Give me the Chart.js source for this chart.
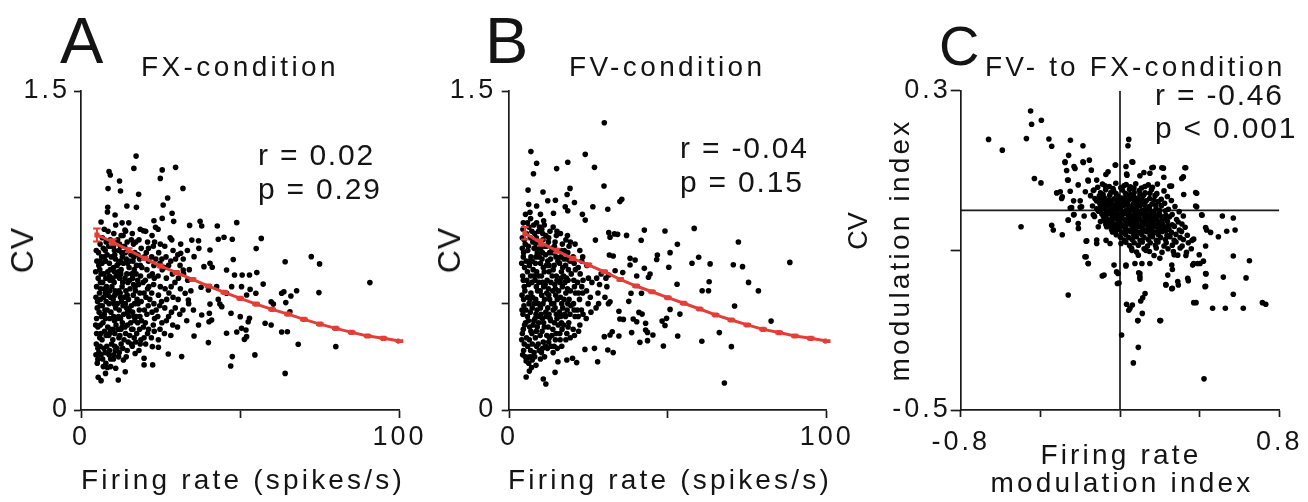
<!DOCTYPE html>
<html><head><meta charset="utf-8">
<script src="https://cdn.jsdelivr.net/npm/chart.js@4/dist/chart.umd.min.js"></script>
<style>
html,body{margin:0;padding:0;background:#fff;overflow:hidden;width:1308px;height:502px;}
canvas{position:absolute;top:0;}
.t{position:absolute;font-family:"Liberation Sans",Arial,sans-serif;color:#141414;white-space:nowrap;line-height:1;}
.big{font-size:65px;}
.cond{font-size:28px;letter-spacing:3.4px;}
.stat{font-size:30px;letter-spacing:1.8px;}
.ax{font-size:28px;letter-spacing:3.2px;}
.rot{transform:translate(-50%,-50%) rotate(-90deg);transform-origin:50% 50%;}
.ctr{transform:translateX(-50%);}
</style>
</head><body>
<canvas id="cA" width="436" height="502" style="left:0px"></canvas>
<canvas id="cB" width="436" height="502" style="left:436px"></canvas>
<canvas id="cC" width="436" height="502" style="left:872px"></canvas>

<div class="t big" style="left:60px;top:8px;">A</div>
<div class="t cond" style="left:141px;top:53px;">FX-condition</div>
<div class="t stat" style="left:258px;top:140px;">r = 0.02</div>
<div class="t stat" style="left:258px;top:174px;">p = 0.29</div>
<div class="t rot" style="left:22px;top:250px;font-size:32px;letter-spacing:1px;">CV</div>
<div class="t ax" style="left:81px;top:466px;">Firing rate (spikes/s)</div>

<div class="t big" style="left:485px;top:8px;">B</div>
<div class="t cond" style="left:569px;top:53px;">FV-condition</div>
<div class="t stat" style="left:680px;top:133px;">r = -0.04</div>
<div class="t stat" style="left:680px;top:167px;">p = 0.15</div>
<div class="t rot" style="left:449px;top:250px;font-size:32px;letter-spacing:1px;">CV</div>
<div class="t ax" style="left:508px;top:466px;">Firing rate (spikes/s)</div>

<div class="t" style="left:939px;top:18px;font-size:56px;">C</div>
<div class="t cond" style="left:985px;top:53px;letter-spacing:3.2px;">FV- to FX-condition</div>
<div class="t stat" style="left:1155px;top:80px;">r = -0.46</div>
<div class="t stat" style="left:1155px;top:113px;">p &lt; 0.001</div>
<div class="t rot" style="left:858px;top:231px;font-size:27px;">CV</div>
<div class="t rot ax" style="left:900px;top:250px;">modulation index</div>
<div class="t ax ctr" style="left:1121px;top:441px;">Firing rate</div>
<div class="t ax ctr" style="left:1122px;top:469px;">modulation index</div>

<script>
// ---------------- DATA ----------------
// Panel A (FX-condition): firing rate (spikes/s) vs CV
const scatterA = [
[17.3,1.194],[16.6,1.136],[29.7,1.141],[25.5,1.129],[24.9,1.089],[8.8,1.121],[9.2,1.105],[12.1,1.077],[32.0,1.042],[8.5,1.041],[12.4,1.030],[18.1,1.014],[27.2,0.997],[25.8,0.964],[14.4,0.959],[17.4,0.953],[8.4,0.953],[8.3,0.931],[28.6,0.925],[10.7,0.917],[25.5,0.901],[22.9,0.890],[29.1,0.887],[6.3,0.884],[37.4,0.887],[37.9,0.865],[34.1,0.868],[42.8,0.865],[48.9,0.881],[23.4,0.859],[19.6,0.843],[13.8,0.846],[56.6,0.807],[44.9,0.812],[47.5,0.803],[43.1,0.803],[28.0,0.810],[34.8,0.799],[36.9,0.796],[55.0,0.759],[37.0,0.760],[40.5,0.752],[31.3,0.737],[35.5,0.721],[72.3,0.721],[64.1,0.697],[74.9,0.687],[47.8,0.708],[40.5,0.690],[38.6,0.674],[41.2,0.671],[32.1,0.658],[45.7,0.658],[48.2,0.635],[50.6,0.635],[52.9,0.635],[55.2,0.646],[90.7,0.599],[57.2,0.592],[47.3,0.580],[50.4,0.580],[42.6,0.580],[37.7,0.577],[40.0,0.564],[53.1,0.567],[67.7,0.561],[63.7,0.556],[52.0,0.541],[54.9,0.549],[74.7,0.552],[65.9,0.536],[63.0,0.549],[45.7,0.549],[32.7,0.549],[33.7,0.517],[43.1,0.520],[40.5,0.498],[43.6,0.498],[59.7,0.509],[60.4,0.498],[64.3,0.505],[35.3,0.470],[37.9,0.447],[40.3,0.455],[44.2,0.486],[47.1,0.455],[65.6,0.462],[50.0,0.439],[52.9,0.431],[36.9,0.400],[40.2,0.415],[41.0,0.423],[52.5,0.415],[57.8,0.408],[59.7,0.400],[50.4,0.384],[51.8,0.376],[48.9,0.367],[45.7,0.361],[63.0,0.367],[64.8,0.368],[52.0,0.345],[51.3,0.332],[35.5,0.348],[40.0,0.317],[68.2,0.309],[80.0,0.298],[31.6,0.251],[47.5,0.251],[54.6,0.259],[47.0,0.207],[64.1,0.172],[27.4,0.263],[19.8,0.243],[19.8,0.212],[22.5,0.212],[24.3,0.295],[22.4,0.298],[17.0,0.266],[13.9,0.180],[11.7,0.141],[6.3,0.138],[5.4,0.154],[7.7,0.172],[10.9,0.196],[9.3,0.204],[7.0,0.204],[5.3,0.238],[5.9,0.262],[13.3,0.235],
[5.1,0.22],[5.6,0.27],[4.8,0.31],[5.9,0.34],[5.3,0.39],[4.9,0.43],[5.7,0.46],[5.2,0.51],[5.8,0.55],[4.9,0.58],[5.4,0.62],[5.9,0.66],[5.0,0.70],[5.5,0.74],[6.0,0.78],
[6.8,0.24],[7.2,0.29],[6.6,0.33],[7.4,0.37],[6.9,0.41],[7.3,0.45],[6.7,0.49],[7.1,0.53],[7.5,0.57],[6.8,0.60],[7.2,0.64],[6.6,0.69],[7.4,0.72],[7.0,0.76],[6.7,0.81],[7.3,0.85],
[8.3,0.20],[8.8,0.26],[8.1,0.30],[8.7,0.35],[8.4,0.39],[9.0,0.43],[8.2,0.47],[8.8,0.50],[8.5,0.54],[8.0,0.58],[9.1,0.61],[8.4,0.65],[8.9,0.69],[8.2,0.73],[8.7,0.77],[9.2,0.80],[8.5,0.84],
[10.2,0.24],[10.8,0.28],[10.0,0.33],[10.6,0.36],[11.0,0.40],[10.3,0.44],[10.9,0.48],[10.1,0.52],[10.7,0.56],[10.4,0.60],[11.1,0.63],[10.2,0.67],[10.8,0.71],[10.5,0.75],[11.0,0.79],[10.3,0.83],[10.9,0.87],
[12.0,0.27],[12.6,0.31],[12.2,0.35],[12.9,0.39],[12.4,0.43],[12.0,0.47],[12.7,0.51],[12.3,0.55],[12.9,0.58],[12.1,0.62],[12.6,0.66],[12.3,0.70],[12.8,0.74],[12.1,0.78],[12.6,0.82],[12.9,0.88],
[14.2,0.25],[14.8,0.32],[14.0,0.36],[14.6,0.40],[15.0,0.44],[14.3,0.48],[14.9,0.52],[14.1,0.56],[14.7,0.60],[14.4,0.64],[15.1,0.67],[14.2,0.71],[14.8,0.75],[14.5,0.79],[14.0,0.84],[15.0,0.88],
[16.1,0.30],[16.7,0.34],[16.3,0.38],[16.9,0.42],[16.2,0.46],[16.8,0.50],[16.4,0.54],[17.0,0.58],[16.2,0.62],[16.7,0.66],[16.3,0.70],[16.9,0.74],[16.5,0.78],[16.1,0.83],
[18.2,0.28],[18.8,0.33],[18.4,0.38],[19.0,0.42],[18.3,0.47],[18.9,0.51],[18.5,0.55],[18.1,0.59],[18.7,0.63],[19.1,0.67],[18.4,0.71],[18.9,0.76],[18.2,0.80],[18.6,0.85],
[20.3,0.31],[20.9,0.36],[20.2,0.41],[20.7,0.45],[21.1,0.49],[20.4,0.53],[20.9,0.57],[20.2,0.61],[20.7,0.66],[21.2,0.70],[20.5,0.74],[20.9,0.79],[20.3,0.84],
[22.1,0.34],[22.7,0.40],[22.3,0.46],[22.9,0.50],[22.2,0.55],[22.8,0.59],[22.4,0.64],[22.9,0.68],[22.2,0.72],[22.7,0.77],[22.3,0.82],
[24.3,0.33],[24.8,0.38],[24.1,0.44],[24.7,0.49],[24.3,0.54],[24.9,0.58],[24.2,0.63],[24.8,0.69],[24.4,0.74],[24.9,0.78],[24.2,0.85],
[26.2,0.36],[26.8,0.42],[26.3,0.48],[26.9,0.52],[26.4,0.57],[26.8,0.62],[26.2,0.67],[26.7,0.72],[26.3,0.77],
[28.2,0.35],[28.8,0.40],[28.4,0.46],[28.9,0.53],[28.3,0.58],[28.7,0.64],[28.2,0.70],[28.9,0.75],[28.5,0.80],
[30.3,0.39],[31.0,0.45],[30.5,0.52],[31.2,0.57],[30.6,0.62],[31.1,0.68],[30.4,0.73],[31.3,0.78],
[33.2,0.42],[33.8,0.50],[33.5,0.61],[34.0,0.66],[33.4,0.75],[34.5,0.56],
[6.2,0.36],[6.1,0.52],[6.3,0.64],[9.6,0.31],[9.4,0.46],[9.7,0.58],[9.5,0.72],[11.6,0.38],[11.4,0.50],[11.7,0.65],[11.5,0.80],[13.5,0.33],[13.4,0.45],[13.6,0.53],[13.3,0.69],[13.7,0.77],[15.6,0.41],[15.4,0.57],[15.7,0.73],[17.5,0.36],[17.6,0.52],[17.4,0.68],[19.6,0.39],[19.5,0.60],[21.6,0.52],[21.5,0.63],[23.6,0.47],[23.5,0.71],
[5.3,0.29],[5.1,0.48],[5.6,0.68],[4.9,0.36],[6.4,0.44],[6.2,0.57],[6.5,0.72],[6.3,0.26],[7.8,0.22],[7.9,0.35],[7.7,0.43],[7.9,0.51],[7.8,0.62],[7.7,0.70],[7.9,0.79],[9.3,0.24],[9.2,0.38],[9.3,0.53],[9.2,0.66],[9.4,0.77],[10.6,0.30],[10.5,0.42],[10.6,0.54],[10.5,0.65],[10.6,0.73],[11.8,0.25],[11.9,0.34],[11.8,0.44],[11.9,0.56],[11.8,0.69],[11.9,0.75],[13.1,0.29],[13.0,0.41],[13.2,0.49],[13.1,0.60],[13.0,0.72],[13.2,0.82],[14.5,0.28],[14.6,0.46],[14.5,0.54],[14.6,0.69],[15.8,0.31],[15.9,0.38],[15.8,0.49],[15.9,0.64],[15.8,0.80],[17.2,0.32],[17.3,0.44],[17.1,0.56],[17.3,0.64],[17.2,0.79],[18.6,0.31],[18.5,0.44],[18.6,0.68],[19.8,0.34],[19.9,0.47],[19.8,0.55],[19.9,0.72],[21.2,0.38],[21.3,0.58],[21.2,0.76],[23.0,0.37],[23.1,0.43],[23.0,0.62],[23.1,0.79],[25.4,0.41],[25.3,0.51],[25.5,0.66],[25.4,0.71],[27.5,0.44],[27.6,0.55],[27.5,0.68],[29.6,0.48],[29.5,0.60],[29.7,0.71],[32.0,0.47],[32.2,0.64],[32.1,0.71],
[4.7,0.26],[4.6,0.40],[4.7,0.53],[4.6,0.65],[4.8,0.75],[6.0,0.30],[6.1,0.40],[6.0,0.49],[6.1,0.60],[6.0,0.70],[7.6,0.27],[7.5,0.47],[7.6,0.55],[7.6,0.75],[9.0,0.28],[8.9,0.36],[9.0,0.56],[8.9,0.63],[10.3,0.26],[10.0,0.38],[10.3,0.50],[10.0,0.62],[10.2,0.77],[11.3,0.29],[11.4,0.43],[11.2,0.55],[11.3,0.68],[12.5,0.38],[12.4,0.53],[12.5,0.64],[12.4,0.77],[13.8,0.39],[13.9,0.50],[13.8,0.62],[13.9,0.74],[15.3,0.35],[15.2,0.47],[15.3,0.61],[15.2,0.70],[16.6,0.44],[16.5,0.59],[16.6,0.72],[17.8,0.41],[17.9,0.50],[17.8,0.61],[17.9,0.73]
];
const fitA_x   = [5,10,15,20,25,30,35,40,45,50,55,60,65,70,75,80,85,90,95,100];
const fitA_y   = [0.823,0.790,0.752,0.713,0.677,0.646,0.614,0.583,0.553,0.525,0.498,0.473,0.451,0.426,0.404,0.384,0.365,0.348,0.337,0.324];
const fitA_err = [0.031,0.013,0.009,0.006,0.006,0.005,0.005,0.005,0.004,0.004,0.004,0.004,0.004,0.004,0.004,0.004,0.004,0.004,0.004,0.004];

// Panel B (FV-condition)
const scatterB = [
[30.0,1.351],[6.9,1.215],[24.0,1.202],[8.7,1.160],[18.5,1.165],[15.0,1.135],[26.9,1.141],[7.7,1.111],[6.0,1.034],[29.9,1.053],[19.2,1.042],[10.7,1.025],[18.3,1.013],[35.5,0.991],[34.9,0.980],[12.2,0.984],[14.6,0.986],[6.2,0.967],[8.7,0.959],[20.6,0.976],[17.7,0.956],[26.4,0.956],[31.1,0.944],[18.5,0.937],[14.0,0.925],[23.1,0.920],[24.0,0.893],[42.6,0.846],[49.1,0.842],[58.3,0.854],[31.4,0.834],[33.2,0.828],[34.2,0.826],[37.0,0.821],[31.8,0.812],[27.2,0.799],[41.6,0.798],[53.0,0.779],[72.2,0.790],[50.7,0.740],[59.7,0.718],[57.6,0.690],[63.3,0.687],[88.4,0.694],[70.6,0.683],[73.5,0.674],[31.6,0.729],[32.8,0.724],[38.1,0.713],[39.7,0.705],[46.7,0.729],[46.5,0.708],[38.1,0.682],[42.6,0.666],[50.3,0.671],[33.4,0.655],[35.8,0.646],[40.2,0.630],[44.4,0.639],[43.9,0.624],[31.4,0.635],[63.0,0.603],[52.9,0.591],[75.4,0.600],[62.8,0.561],[60.8,0.561],[78.5,0.560],[38.4,0.549],[31.8,0.509],[37.7,0.511],[41.7,0.549],[71.0,0.489],[53.8,0.451],[41.9,0.451],[40.9,0.459],[50.7,0.473],[34.6,0.464],[34.9,0.428],[36.0,0.426],[39.1,0.428],[40.2,0.415],[43.0,0.408],[48.2,0.418],[49.6,0.431],[49.1,0.397],[82.5,0.418],[43.0,0.376],[43.6,0.365],[38.6,0.364],[45.3,0.353],[32.5,0.368],[31.8,0.353],[34.6,0.348],[30.0,0.345],[53.1,0.348],[66.2,0.364],[41.2,0.318],[43.6,0.326],[60.7,0.323],[48.6,0.301],[70.0,0.298],[31.1,0.282],[32.8,0.270],[26.9,0.290],[23.9,0.285],[27.9,0.227],[21.3,0.223],[18.2,0.235],[20.0,0.243],[15.4,0.227],[14.5,0.177],[10.8,0.146],[11.6,0.122],[5.4,0.155],[6.4,0.183],[67.8,0.127],[7.3,0.235],[5.9,0.248],
[4.3,0.26],[4.8,0.31],[4.2,0.36],[4.9,0.40],[4.4,0.45],[4.7,0.49],[4.1,0.54],[4.8,0.58],[4.3,0.63],[4.9,0.67],[4.5,0.72],[4.2,0.76],[4.8,0.80],[4.4,0.85],
[6.2,0.22],[6.8,0.28],[6.4,0.33],[6.9,0.37],[6.1,0.42],[6.7,0.46],[6.3,0.50],[6.9,0.55],[6.2,0.59],[6.8,0.63],[6.4,0.68],[6.9,0.72],[6.1,0.77],[6.7,0.81],[6.3,0.86],[6.8,0.90],
[8.1,0.25],[8.7,0.30],[8.3,0.34],[8.9,0.39],[8.2,0.43],[8.8,0.47],[8.4,0.52],[9.0,0.56],[8.2,0.61],[8.7,0.65],[8.3,0.69],[8.9,0.74],[8.5,0.78],[8.1,0.83],[8.7,0.88],
[10.2,0.27],[10.8,0.32],[10.4,0.37],[10.9,0.41],[10.1,0.45],[10.7,0.50],[10.3,0.54],[10.9,0.58],[10.2,0.63],[10.8,0.67],[10.4,0.71],[10.0,0.76],[10.7,0.80],[10.3,0.85],[10.9,0.89],
[12.1,0.29],[12.7,0.34],[12.3,0.39],[12.9,0.43],[12.2,0.48],[12.8,0.52],[12.4,0.57],[12.0,0.61],[12.6,0.65],[12.2,0.70],[12.8,0.74],[12.4,0.79],[12.9,0.84],
[14.2,0.30],[14.8,0.36],[14.3,0.41],[14.9,0.45],[14.1,0.50],[14.7,0.54],[14.4,0.59],[14.9,0.63],[14.2,0.68],[14.8,0.72],[14.3,0.77],[14.9,0.82],
[16.1,0.33],[16.7,0.38],[16.3,0.44],[16.9,0.48],[16.2,0.53],[16.8,0.58],[16.4,0.62],[16.9,0.67],[16.3,0.72],[16.8,0.78],[16.2,0.83],
[18.2,0.36],[18.8,0.41],[18.3,0.47],[18.9,0.52],[18.4,0.57],[18.1,0.62],[18.7,0.66],[18.3,0.71],[18.9,0.77],[18.4,0.82],
[20.2,0.38],[20.8,0.44],[20.3,0.50],[20.9,0.55],[20.4,0.61],[20.9,0.66],[20.2,0.72],[20.8,0.78],
[22.3,0.40],[22.8,0.47],[22.2,0.52],[22.9,0.58],[22.4,0.64],[22.9,0.70],[22.3,0.75],
[24.3,0.43],[24.9,0.50],[24.4,0.56],[25.0,0.62],[24.5,0.68],[25.6,0.53],[26.1,0.60],[25.8,0.46],
[27.4,0.48],[28.0,0.55],[27.6,0.62],[28.5,0.59],[28.2,0.50],[29.0,0.64],
[30.2,0.53],[30.8,0.58],[31.3,0.50],[30.5,0.62],
[5.4,0.23],[5.5,0.34],[5.3,0.47],[5.6,0.61],[5.4,0.70],[5.5,0.83],[7.5,0.25],[7.6,0.40],[7.4,0.53],[7.6,0.66],[7.5,0.79],[9.5,0.28],[9.6,0.44],[9.4,0.60],[9.5,0.72],[9.6,0.86],[11.5,0.30],[11.6,0.46],[11.4,0.59],[11.5,0.73],[11.6,0.82],[13.5,0.35],[13.4,0.50],[13.6,0.63],[13.5,0.76],[15.5,0.40],[15.6,0.56],[15.4,0.70],[17.5,0.45],[17.6,0.60],[17.4,0.75],[19.5,0.49],[19.6,0.64],[21.5,0.47],[21.6,0.60],
[4.6,0.28],[4.5,0.38],[4.6,0.52],[4.5,0.61],[4.6,0.74],[4.5,0.88],[5.9,0.30],[5.8,0.44],[5.9,0.53],[5.8,0.65],[5.9,0.75],[5.8,0.88],[7.3,0.31],[7.2,0.36],[7.3,0.48],[7.2,0.60],[7.3,0.70],[7.2,0.84],[7.1,0.20],[8.5,0.21],[8.6,0.37],[8.5,0.45],[8.6,0.58],[8.5,0.72],[8.6,0.81],[9.9,0.24],[9.8,0.35],[9.9,0.48],[9.8,0.56],[9.9,0.69],[9.8,0.78],[9.9,0.92],[11.2,0.25],[11.1,0.39],[11.2,0.52],[11.1,0.65],[11.2,0.77],[11.1,0.87],[12.5,0.32],[12.6,0.45],[12.5,0.54],[12.6,0.68],[12.5,0.81],[13.9,0.27],[13.8,0.38],[13.9,0.47],[13.8,0.56],[13.9,0.66],[13.8,0.74],[13.9,0.86],[15.2,0.29],[15.1,0.43],[15.2,0.52],[15.1,0.61],[15.2,0.75],[15.1,0.84],[16.6,0.30],[16.5,0.41],[16.6,0.50],[16.5,0.65],[16.6,0.75],[17.9,0.33],[17.8,0.44],[17.9,0.55],[17.8,0.68],[17.9,0.80],[19.3,0.34],[19.2,0.45],[19.3,0.56],[19.2,0.70],[19.3,0.79],[20.6,0.35],[20.5,0.47],[20.6,0.58],[20.5,0.69],[21.9,0.37],[21.8,0.44],[21.9,0.55],[21.8,0.67],[23.3,0.45],[23.2,0.55],[23.3,0.61],[23.2,0.72],
[4.0,0.33],[4.1,0.47],[4.0,0.69],[4.2,0.81],[5.1,0.25],[5.2,0.41],[5.0,0.56],[5.1,0.78],[5.2,0.92],[6.6,0.25],[6.5,0.39],[6.6,0.52],[6.5,0.70],[6.6,0.93],[7.9,0.27],[7.8,0.42],[7.9,0.50],[7.8,0.63],[7.9,0.76],[7.8,0.87],[9.2,0.31],[9.3,0.41],[9.2,0.50],[9.3,0.63],[9.2,0.76],[9.3,0.84],[10.6,0.29],[10.5,0.43],[10.6,0.60],[10.5,0.74],[10.6,0.83],[11.9,0.35],[11.8,0.44],[11.9,0.55],[11.8,0.68],[11.9,0.77],[13.2,0.30],[13.1,0.42],[13.2,0.60],[13.1,0.71],[14.6,0.33],[14.5,0.48],[14.6,0.57],[14.5,0.79],[16.0,0.36],[15.9,0.46],[16.0,0.60],[15.9,0.69],[17.2,0.40],[17.3,0.52],[17.2,0.63],[17.3,0.71],[18.6,0.39],[18.5,0.50],[18.6,0.61],[18.5,0.74]
];
const fitB_x   = [5,10,15,20,25,30,35,40,45,50,55,60,65,70,75,80,85,90,95,100];
const fitB_y   = [0.831,0.787,0.749,0.713,0.682,0.650,0.614,0.583,0.556,0.528,0.502,0.475,0.447,0.423,0.400,0.379,0.364,0.348,0.337,0.324];
const fitB_err = [0.029,0.015,0.009,0.006,0.006,0.005,0.005,0.005,0.004,0.004,0.004,0.004,0.004,0.004,0.004,0.004,0.004,0.004,0.004,0.004];

// Panel C: firing-rate modulation index vs CV modulation index
const scatterC = [
[-0.449,0.249],[-0.444,0.216],[-0.395,0.226],[-0.660,0.178],[-0.591,0.151],[-0.470,0.180],[-0.357,0.179],[-0.343,0.161],[-0.249,0.176],[-0.186,0.162],[0.044,0.178],[0.040,0.162],[-0.258,0.138],[-0.276,0.120],[-0.231,0.110],[-0.184,0.120],[-0.154,0.126],[-0.022,0.114],[0.033,0.091],[0.064,0.121],[-0.430,0.080],[-0.397,0.069],[-0.263,0.076],[-0.159,0.074],[0.167,0.108],[0.218,0.106],[0.326,0.107],[0.318,0.084],[0.259,0.061],[0.385,0.043],[-0.318,0.044],[-0.293,0.030],[-0.243,0.007],[-0.193,0.009],[0.385,0.009],[0.412,-0.012],[0.514,-0.014],[0.569,-0.019],[-0.497,-0.041],[-0.343,-0.037],[-0.335,-0.049],[-0.290,-0.061],[-0.260,-0.024],[-0.231,-0.010],[-0.209,-0.045],[0.435,-0.049],[0.455,-0.055],[0.578,-0.049],[0.536,-0.052],[0.494,-0.066],[-0.167,-0.076],[-0.117,-0.083],[-0.176,-0.116],[-0.159,-0.133],[-0.089,-0.164],[-0.017,-0.154],[-0.013,-0.183],[0.030,-0.139],[0.075,-0.133],[0.100,-0.166],[0.094,-0.156],[0.231,-0.187],[0.263,-0.195],[0.293,-0.187],[0.263,-0.148],[0.343,-0.176],[0.365,-0.137],[0.402,-0.133],[0.419,-0.127],[0.432,-0.159],[0.427,-0.191],[0.519,-0.167],[0.569,-0.114],[0.650,-0.126],[0.633,-0.169],[0.569,-0.210],[0.382,-0.231],[0.465,-0.245],[0.529,-0.245],[0.619,-0.245],[0.715,-0.231],[0.732,-0.235],[-0.260,-0.212],[0.033,-0.235],[0.050,-0.245],[0.062,-0.237],[0.044,-0.250],[0.104,-0.227],[0.114,-0.219],[0.126,-0.208],[0.112,-0.258],[0.089,-0.276],[0.204,-0.276],[0.008,-0.312],[0.092,-0.343],[0.067,-0.382],[0.422,-0.422],
[-0.276,0.122],[-0.268,0.100],[-0.260,0.076],[-0.226,0.105],[-0.210,0.064],[-0.186,0.122],[-0.161,0.076],[-0.144,0.101],[-0.300,0.047],[-0.290,0.034],[-0.250,0.048],[-0.233,0.024],[-0.200,0.024],[-0.174,0.047],[-0.134,0.050],[-0.117,0.076],[-0.250,0.006],[-0.200,0.008],[-0.233,-0.011],[-0.260,-0.024],[-0.210,-0.033],[-0.180,-0.014],[-0.134,-0.011],[-0.109,-0.041],[-0.117,-0.074],[-0.170,-0.077],[-0.170,-0.116],[-0.160,-0.133],[-0.080,-0.162],[-0.030,-0.137],[-0.010,-0.158],[-0.005,-0.182],[0.030,-0.137],[0.100,-0.158],[0.100,-0.172],[0.110,-0.133],[0.150,-0.133],[0.200,-0.120],[0.240,-0.162],[0.230,-0.186],[0.260,-0.196],[0.290,-0.178],[0.340,-0.170],[0.370,-0.133],[0.390,-0.133],[0.430,-0.158],[0.430,-0.190],[0.370,-0.231],[0.090,-0.276],[0.200,-0.276],
[-0.071,0.090],[-0.060,0.097],[-0.024,0.114],[0.030,0.110],[0.035,0.088],[0.060,0.122],[0.100,0.087],[0.120,0.095],[0.150,0.093],[0.160,0.107],[0.210,0.107],[0.220,0.083],[0.250,0.061],[0.310,0.080],[0.330,0.107],[0.320,0.040],[0.380,0.045],[0.380,0.011],[0.410,-0.011],[0.430,-0.043],[0.430,-0.089],[0.370,-0.072],[0.290,-0.112],[0.260,-0.137],[0.130,-0.100],[0.060,-0.100],[0.005,-0.083],[-0.050,-0.083],[-0.070,-0.075],
[-0.088,0.066],[-0.021,0.068],[0.031,0.065],[0.079,0.067],[0.142,0.064],[0.188,0.066],
[-0.112,0.058],[-0.054,0.060],[0.004,0.057],[0.052,0.059],[0.108,0.056],[0.163,0.058],
[-0.131,0.051],[-0.072,0.052],[-0.032,0.049],[0.012,0.051],[0.048,0.053],[0.097,0.050],[0.158,0.052],[0.221,0.049],
[-0.098,0.044],[-0.046,0.045],[0.027,0.043],[0.071,0.045],[0.126,0.044],[0.185,0.042],
[-0.148,0.037],[-0.104,0.036],[-0.052,0.038],[-0.012,0.036],[0.031,0.038],[0.068,0.036],[0.118,0.038],[0.176,0.037],[0.238,0.035],
[-0.126,0.030],[-0.078,0.031],[-0.029,0.029],[0.009,0.031],[0.051,0.029],[0.091,0.031],[0.149,0.030],[0.207,0.028],
[-0.118,0.024],[-0.083,0.022],[-0.041,0.025],[0.003,0.023],[0.042,0.025],[0.088,0.023],[0.132,0.024],[0.192,0.022],[0.258,0.025],
[-0.101,0.017],[-0.061,0.018],[-0.018,0.016],[0.024,0.018],[0.067,0.016],[0.109,0.018],[0.161,0.016],[0.224,0.018],
[-0.138,0.011],[-0.097,0.010],[-0.058,0.012],[-0.021,0.010],[0.018,0.012],[0.061,0.010],[0.102,0.012],[0.148,0.010],[0.208,0.012],[0.276,0.010],
[-0.117,0.004],[-0.079,0.005],[-0.038,0.003],[0.002,0.005],[0.041,0.003],[0.083,0.005],[0.127,0.003],[0.181,0.005],[0.243,0.003],
[-0.108,-0.002],[-0.068,-0.003],[-0.031,-0.001],[0.011,-0.003],[0.052,-0.001],[0.092,-0.003],[0.133,-0.001],[0.171,-0.003],[0.228,-0.001],[0.297,-0.003],
[-0.091,-0.009],[-0.049,-0.008],[-0.011,-0.010],[0.031,-0.008],[0.072,-0.010],[0.112,-0.008],[0.154,-0.010],[0.198,-0.008],[0.262,-0.010],
[-0.128,-0.015],[-0.083,-0.016],[-0.039,-0.014],[0.001,-0.016],[0.043,-0.014],[0.081,-0.016],[0.121,-0.014],[0.162,-0.016],[0.203,-0.014],[0.249,-0.016],[0.318,-0.014],
[-0.062,-0.022],[-0.019,-0.021],[0.022,-0.023],[0.062,-0.021],[0.101,-0.023],[0.141,-0.021],[0.183,-0.023],[0.226,-0.021],[0.284,-0.023],
[-0.098,-0.028],[-0.052,-0.029],[-0.008,-0.027],[0.031,-0.029],[0.069,-0.027],[0.112,-0.029],[0.151,-0.027],[0.191,-0.029],[0.238,-0.027],[0.292,-0.029],
[-0.071,-0.035],[-0.029,-0.034],[0.012,-0.036],[0.051,-0.034],[0.091,-0.036],[0.131,-0.034],[0.172,-0.036],[0.214,-0.034],[0.262,-0.036],[0.311,-0.034],
[-0.067,-0.041],[-0.028,-0.042],[0.018,-0.040],[0.061,-0.042],[0.098,-0.040],[0.141,-0.042],[0.182,-0.040],[0.221,-0.042],[0.273,-0.040],[0.327,-0.042],
[-0.043,-0.048],[-0.004,-0.047],[0.038,-0.049],[0.079,-0.047],[0.119,-0.049],[0.161,-0.047],[0.201,-0.049],[0.246,-0.047],[0.298,-0.049],
[-0.038,-0.054],[0.008,-0.055],[0.052,-0.053],[0.091,-0.055],[0.132,-0.053],[0.171,-0.055],[0.212,-0.053],[0.258,-0.055],[0.309,-0.053],
[-0.019,-0.061],[0.028,-0.060],[0.069,-0.062],[0.109,-0.060],[0.151,-0.062],[0.192,-0.060],[0.236,-0.062],[0.281,-0.060],[0.338,-0.062],
[0.002,-0.067],[0.043,-0.068],[0.082,-0.066],[0.121,-0.068],[0.163,-0.066],[0.204,-0.068],[0.251,-0.066],[0.302,-0.068],
[0.021,-0.074],[0.061,-0.073],[0.101,-0.075],[0.142,-0.073],[0.183,-0.075],[0.228,-0.073],[0.272,-0.075],[0.318,-0.073],[0.362,-0.075],
[0.029,-0.080],[0.071,-0.081],[0.112,-0.079],[0.152,-0.081],[0.191,-0.079],[0.232,-0.081],[0.281,-0.079],[0.343,-0.081],
[0.048,-0.088],[0.092,-0.087],[0.138,-0.089],[0.178,-0.087],[0.221,-0.089],[0.263,-0.087],[0.312,-0.089],
[0.058,-0.095],[0.121,-0.096],[0.182,-0.094],[0.241,-0.096],[0.302,-0.094],[0.358,-0.096],
[0.083,-0.104],[0.148,-0.103],[0.211,-0.105],[0.268,-0.103],[0.334,-0.105],
[0.092,-0.112],[0.171,-0.113],[0.272,-0.111],[0.331,-0.113],[0.398,-0.111],
[-0.075,0.062],[-0.035,0.055],[0.020,0.062],[0.070,0.056],[0.125,0.060],[-0.085,0.040],[-0.020,0.042],[0.050,0.040],[0.100,0.041],[0.150,0.043],[-0.100,0.027],[-0.060,0.026],[-0.015,0.027],[0.025,0.028],[0.070,0.027],[0.110,0.028],[0.170,0.026],[-0.080,0.014],[-0.040,0.015],[0.000,0.013],[0.040,0.014],[0.085,0.015],[0.125,0.014],[0.180,0.013],[-0.095,0.001],[-0.055,0.000],[-0.015,0.001],[0.030,0.000],[0.070,0.001],[0.110,0.000],[0.150,0.001],[0.200,0.000],[-0.070,-0.012],[-0.030,-0.012],[0.010,-0.012],[0.050,-0.013],[0.095,-0.012],[0.135,-0.012],[0.180,-0.012],[0.230,-0.012],[-0.080,-0.025],[-0.040,-0.025],[0.000,-0.025],[0.045,-0.025],[0.085,-0.025],[0.125,-0.025],[0.165,-0.025],[0.210,-0.025],[-0.050,-0.038],[-0.010,-0.038],[0.030,-0.038],[0.075,-0.038],[0.115,-0.038],[0.155,-0.038],[0.200,-0.038],[0.240,-0.038],[-0.020,-0.051],[0.025,-0.051],[0.070,-0.051],[0.110,-0.051],[0.150,-0.051],[0.190,-0.051],[0.230,-0.051]
];
const crossH = [[-0.8,0],[0.8,0]];
const crossV = [[0,-0.5],[0,0.3]];

// Axis ticks and tick labels
const ticksAB_x  = [0,50,100];      const labelsAB_x = ['0','','100'];
const ticksAB_y  = [0,0.5,1,1.5];   const labelsAB_y = ['0','','','1.5'];
const ticksC_x   = [-0.8,-0.4,0,0.4,0.8]; const labelsC_x = ['-0.8','','','','0.8'];
const ticksC_y   = [-0.5,-0.1,0.3]; const labelsC_y = ['-0.5','','0.3'];

// ---------------- CHARTS ----------------
const FONT = '"Liberation Sans", Arial, sans-serif';
Chart.defaults.font.family = FONT;
Chart.defaults.color = '#141414';
const INK = '#1a1a1a';
const RED = '#e23f38';
const toXY = a => a.map(p => ({x:p[0], y:p[1]}));

function axis(min, max, ticks, labels, o){
  return {
    type:'linear', min, max,
    afterBuildTicks: s => { s.ticks = ticks.map(v => ({value:v})); },
    afterFit: s => { if (o.w != null) s.width = o.w; if (o.h != null) s.height = o.h; },
    ticks:{ font:{size:27, family:FONT}, color:'#141414', padding:o.pad, autoSkip:false, maxRotation:0, minRotation:0,
            callback:(v,i) => labels[i] },
    grid:{ display:true, drawOnChartArea:false, drawTicks:true, tickLength:o.tl, tickWidth:1.7, tickColor:INK },
    border:{ display:true, color:INK, width:1.7 }
  };
}

const spacing = { id:'spacing', beforeDraw(c){ try{ c.ctx.letterSpacing = '3px'; }catch(e){} } };

function errPlugin(xs, ys, es){
  return { id:'errbars', afterDatasetsDraw(chart){
    const ctx = chart.ctx, sx = chart.scales.x, sy = chart.scales.y;
    ctx.save(); ctx.strokeStyle = RED; ctx.lineWidth = 2;
    xs.forEach((xv,i) => {
      const px = sx.getPixelForValue(xv);
      const y1 = sy.getPixelForValue(ys[i]-es[i]), y2 = sy.getPixelForValue(ys[i]+es[i]);
      ctx.beginPath();
      ctx.moveTo(px,y1); ctx.lineTo(px,y2);
      ctx.moveTo(px-3.8,y1); ctx.lineTo(px+3.8,y1);
      ctx.moveTo(px-3.8,y2); ctx.lineTo(px+3.8,y2);
      ctx.stroke();
    });
    ctx.restore();
  }};
}

const dotStyle = { type:'scatter', pointRadius:2.8, pointBackgroundColor:'#000', pointBorderWidth:0, pointHoverRadius:2.8 };
const base = { responsive:false, animation:false, events:[], plugins:{legend:{display:false}, tooltip:{enabled:false}, title:{display:false}} };

function fitChart(id, scatter, fx, fy, fe, yw, ypad, ytl, padRight){
  const fitPts = fx.map((x,i) => ({x, y:fy[i]}));
  new Chart(document.getElementById(id), {
    data:{ datasets:[
      { type:'line', data:fitPts, borderColor:RED, borderWidth:3, pointStyle:'rect', pointRadius:3.6,
        pointBackgroundColor:RED, pointBorderWidth:0, tension:0, fill:false },
      Object.assign({ data:toXY(scatter) }, dotStyle)
    ]},
    options: Object.assign({}, base, {
      layout:{ padding:{ left:0, right:padRight, top:91, bottom:0 } },
      scales:{
        x: axis(0, 100, ticksAB_x, labelsAB_x, {h:92, pad:3.5, tl:8}),
        y: axis(0, 1.5, ticksAB_y, labelsAB_y, {w:yw, pad:ypad, tl:ytl})
      }
    }),
    plugins:[spacing, errPlugin(fx, fy, fe)]
  });
}

fitChart('cA', scatterA, fitA_x, fitA_y, fitA_err, 81, 4, 7, 36.5);
fitChart('cB', scatterB, fitB_x, fitB_y, fitB_err, 73, 5.4, 7.3, 45.3);

new Chart(document.getElementById('cC'), {
  data:{ datasets:[
    Object.assign({ data:toXY(scatterC) }, dotStyle),
    { type:'line', data:toXY(crossH), borderColor:INK, borderWidth:1.7, pointRadius:0, fill:false },
    { type:'line', data:toXY(crossV), borderColor:INK, borderWidth:1.7, pointRadius:0, fill:false }
  ]},
  options: Object.assign({}, base, {
    layout:{ padding:{ left:0, right:28.7, top:90.7, bottom:0 } },
    scales:{
      x: axis(-0.8, 0.8, ticksC_x, labelsC_x, {h:92, pad:9.5, tl:7}),
      y: axis(-0.5, 0.3, ticksC_y, labelsC_y, {w:88.7, pad:0, tl:10})
    }
  }),
  plugins:[spacing]
});
</script>
</body></html>
